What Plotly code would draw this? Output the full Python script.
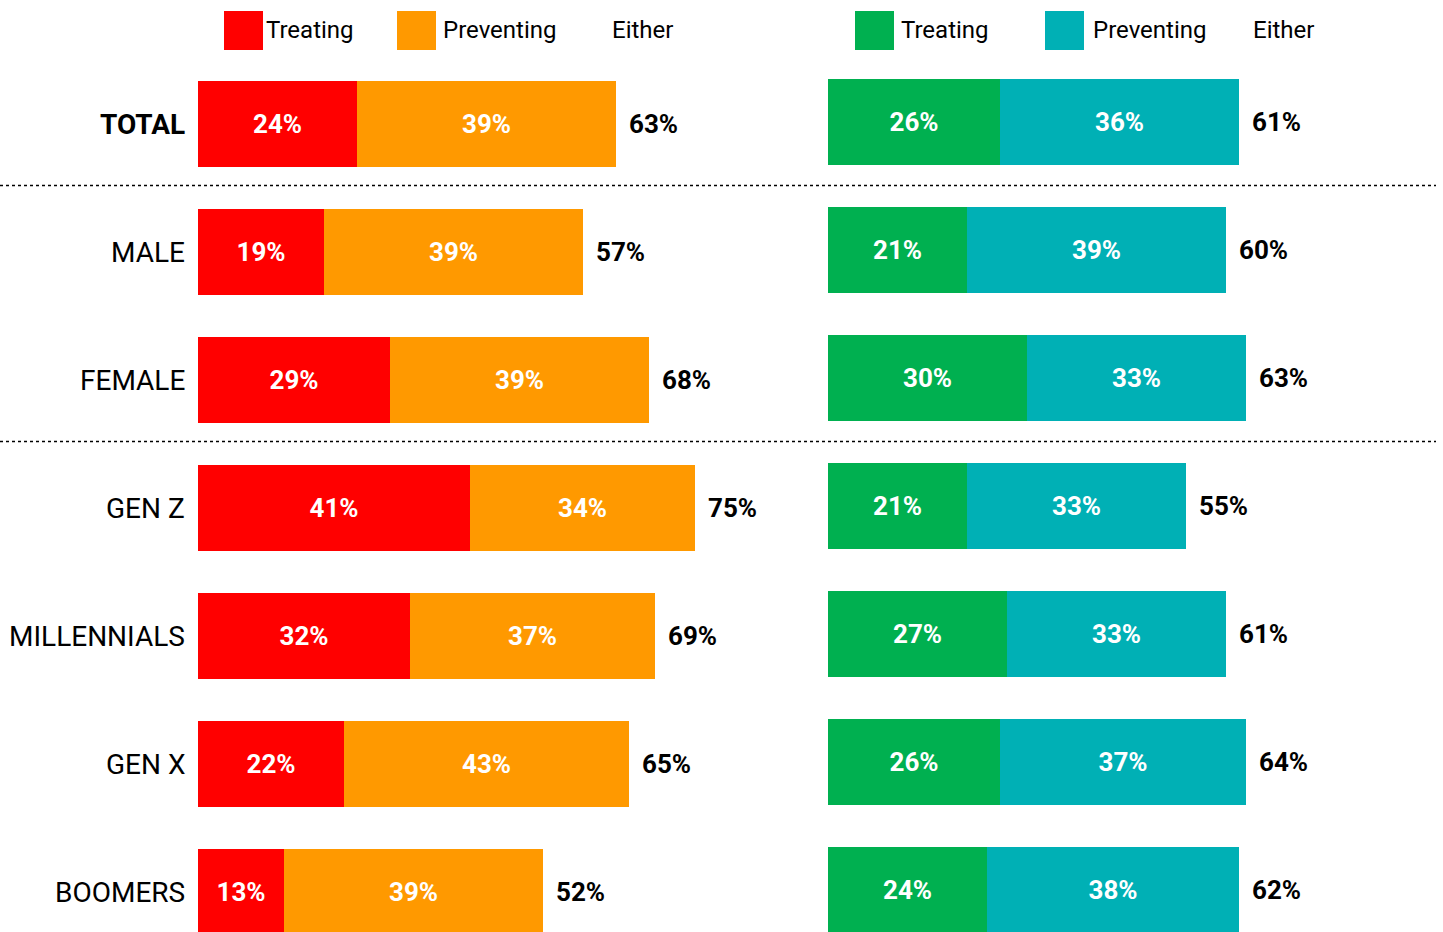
import plotly.graph_objects as go

categories = ["TOTAL", "MALE", "FEMALE", "GEN Z", "MILLENNIALS", "GEN X", "BOOMERS"]

left_treating = [24, 19, 29, 41, 32, 22, 13]
left_preventing = [39, 39, 39, 34, 37, 43, 39]
left_either = [63, 57, 68, 75, 69, 65, 52]

right_treating = [26, 21, 30, 21, 27, 26, 24]
right_preventing = [36, 39, 33, 33, 33, 37, 38]
right_either = [61, 60, 63, 55, 61, 64, 62]

legend_labels = ["Treating", "Preventing", "Either"]

RED, ORANGE = "#FF0000", "#FF9900"
GREEN, TEAL = "#00B050", "#00B0B5"

W, H = 1443, 932
FONT = "Roboto"
rows = list(range(len(categories)))

fig = go.Figure()


def add_panel(treat, prev, xa, ya, c1, c2):
    for vals, col in ((treat, c1), (prev, c2)):
        fig.add_trace(go.Bar(
            y=rows, x=vals, orientation="h", marker=dict(color=col, line=dict(width=0)),
            text=[f"{v}%" for v in vals], textposition="inside", insidetextanchor="middle",
            textfont=dict(family=FONT, size=26, color="white", weight="bold"),
            xaxis=xa, yaxis=ya, width=0.67, hoverinfo="skip", showlegend=False,
        ))


add_panel(left_treating, left_preventing, "x", "y", RED, ORANGE)
add_panel(right_treating, right_preventing, "x2", "y2", GREEN, TEAL)

annotations = []
for i in rows:
    annotations.append(dict(
        x=left_treating[i] + left_preventing[i], y=i, xref="x", yref="y",
        text=f"<b>{left_either[i]}%</b>", showarrow=False, xanchor="left", xshift=11,
        font=dict(family=FONT, size=26, color="black")))
    annotations.append(dict(
        x=right_treating[i] + right_preventing[i], y=i, xref="x2", yref="y2",
        text=f"<b>{right_either[i]}%</b>", showarrow=False, xanchor="left", xshift=11,
        font=dict(family=FONT, size=26, color="black")))
    label = f"<b>{categories[i]}</b>" if i == 0 else categories[i]
    annotations.append(dict(
        x=187 / W, y=i, xref="paper", yref="y", text=label, showarrow=False,
        xanchor="right", font=dict(family=FONT, size=28, color="black")))

shapes = []
legend_y = 1 - 30 / H
sq = 39


def legend(items, sq_x, txt_x, colors):
    for lab, sx, tx, col in zip(items, sq_x, txt_x, colors):
        if col is not None:
            shapes.append(dict(type="rect", xref="paper", yref="paper",
                               x0=sx / W, x1=(sx + sq) / W,
                               y0=1 - 50 / H, y1=1 - 11 / H,
                               fillcolor=col, line=dict(width=0)))
        annotations.append(dict(x=tx / W, y=legend_y, xref="paper", yref="paper",
                                text=lab, showarrow=False, xanchor="left", yanchor="middle",
                                font=dict(family=FONT, size=24, color="black")))


legend(legend_labels, [224, 397, None], [264, 441, 610], [RED, ORANGE, None])
legend(legend_labels, [855, 1045, None], [899, 1091, 1251], [GREEN, TEAL, None])

for yb in [0.5, 2.5]:
    shapes.append(dict(type="line", xref="paper", yref="y", x0=0, x1=1436 / W,
                       y0=yb - 0.02, y1=yb - 0.02,
                       line=dict(color="black", width=1.5, dash="dot")))

xmax = 90
px_per = 6.63
ytop = -124 / 128
ybot = 6 + 40 / 128
off = 2 / 128

fig.update_layout(
    width=W, height=H, margin=dict(l=0, r=0, t=0, b=0),
    paper_bgcolor="white", plot_bgcolor="white", barmode="stack", bargap=0,
    xaxis=dict(domain=[198 / W, (198 + xmax * px_per) / W], range=[0, xmax], visible=False),
    xaxis2=dict(domain=[828 / W, (828 + xmax * px_per) / W], range=[0, xmax], visible=False),
    yaxis=dict(range=[ybot, ytop], visible=False),
    yaxis2=dict(range=[ybot + off, ytop + off], visible=False, anchor="x2", overlaying="y"),
    annotations=annotations, shapes=shapes,
    font=dict(family=FONT),
)

fig.write_html("out.html", config={"displayModeBar": False},
               post_script="document.body.style.margin='0px';")
